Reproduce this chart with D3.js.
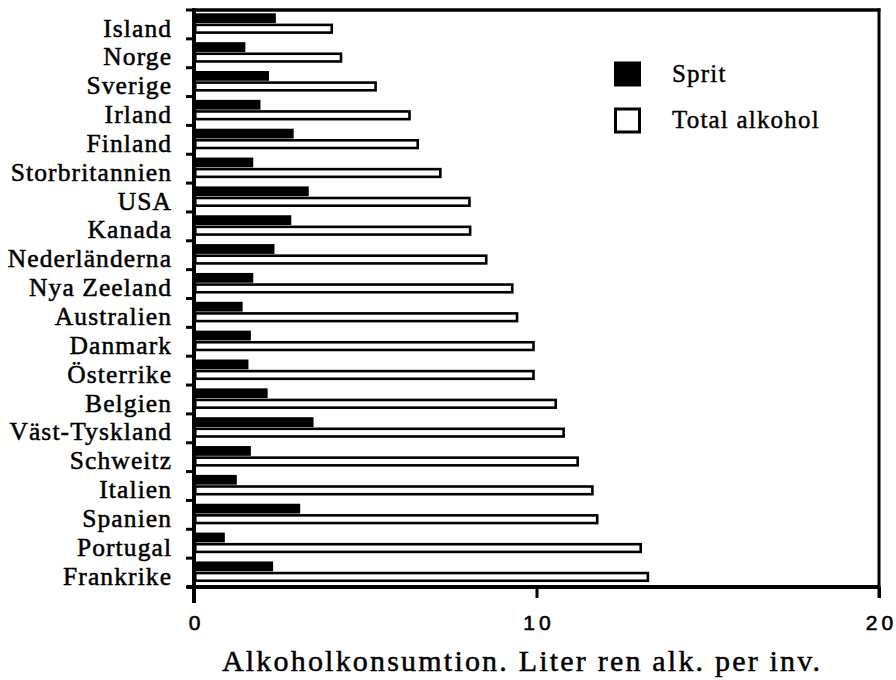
<!DOCTYPE html>
<html>
<head>
<meta charset="utf-8">
<script src="https://cdn.jsdelivr.net/npm/d3@7"></script>
<style>
  html, body { margin: 0; padding: 0; background: #fff; }
  svg { display: block; }
</style>
</head>
<body>
<svg id="chart" width="896" height="680"></svg>
<script>
const countries = ["Island","Norge","Sverige","Irland","Finland","Storbritannien","USA","Kanada","Nederländerna","Nya Zeeland","Australien","Danmark","Österrike","Belgien","Väst-Tyskland","Schweitz","Italien","Spanien","Portugal","Frankrike"];
const sprit = [2.39,1.50,2.19,1.94,2.91,1.73,3.35,2.84,2.35,1.73,1.42,1.66,1.59,2.15,3.49,1.66,1.25,3.10,0.90,2.31];
const total = [4.06,4.33,5.34,6.33,6.57,7.23,8.08,8.10,8.57,9.33,9.47,9.95,9.95,10.60,10.83,11.24,11.67,11.81,13.08,13.29];
const xTicks = [0,10,20];
const seriesNames = ["Sprit","Total alkohol"];
const xTitle = "Alkoholkonsumtion. Liter ren alk. per inv.";

(function(){
const svg = d3.select("#chart");
const pL = 194, pR = 879, pT = 10, pB = 587;
const serif = "'Liberation Serif','Times New Roman',serif";
const sans = "'Liberation Sans',Arial,sans-serif";

const x = d3.scaleLinear().domain([0,20]).range([pL,pR]);
const y = d3.scaleBand().domain(countries).range([pT,pB]).paddingInner(0).paddingOuter(0);
const sub = d3.scaleBand().domain(seriesNames).range([0,y.bandwidth()]).paddingInner(0).paddingOuter(0.4).align(0.4);

const data = countries.map((c,i)=>({c, s: sprit[i], t: total[i]}));

// Total bars (white with black outline)
const sw = 2.6;
svg.append("g").selectAll("rect").data(data).join("rect")
  .attr("x", pL + sw/2)
  .attr("y", d => y(d.c) + sub("Total alkohol") + sw/2)
  .attr("width", d => x(d.t) - pL - sw)
  .attr("height", sub.bandwidth() - sw)
  .attr("fill", "#fff").attr("stroke", "#000").attr("stroke-width", sw);

// Sprit bars (black)
svg.append("g").selectAll("rect").data(data).join("rect")
  .attr("x", pL)
  .attr("y", d => y(d.c) + sub("Sprit"))
  .attr("width", d => x(d.s) - pL)
  .attr("height", sub.bandwidth() - 0.5)
  .attr("fill", "#000");

// Frame
svg.append("line").attr("x1", pL-2).attr("x2", pR+1.5).attr("y1", pT).attr("y2", pT)
  .attr("stroke","#000").attr("stroke-width",3.5);
svg.append("line").attr("x1", pR).attr("x2", pR).attr("y1", pT-1.5).attr("y2", pB+11)
  .attr("stroke","#000").attr("stroke-width",3);

// X axis
const xAxis = d3.axisBottom(x).tickValues(xTicks).tickSize(11).tickSizeOuter(0).tickFormat(d3.format("d"));
const gx = svg.append("g").attr("transform", `translate(0,${pB})`).call(xAxis);
gx.select(".domain").attr("stroke-width",4).attr("d", `M${pL-7},0H${pR+1.5}`);
gx.selectAll(".tick line").attr("stroke-width",3);
gx.selectAll(".tick text")
  .attr("y", 43).attr("dy", null)
  .attr("font-family", sans).attr("font-size", 21).attr("fill","#000")
  .attr("stroke","#000").attr("stroke-width",0.6)
  .style("letter-spacing","4px").attr("dx", 2);

// Y axis (ticks at band boundaries)
const boundaries = d3.range(countries.length + 1).map(i => pT + i * y.step());
svg.append("g").selectAll("line").data(boundaries).join("line")
  .attr("x1", pL-8).attr("x2", pL).attr("y1", d=>d).attr("y2", d=>d)
  .attr("stroke","#000").attr("stroke-width",3);
svg.append("line").attr("x1", pL).attr("x2", pL).attr("y1", pT-1.5).attr("y2", pB+16)
  .attr("stroke","#000").attr("stroke-width",4);

// Category labels
svg.append("g").selectAll("text").data(countries).join("text")
  .attr("x", 171).attr("y", d => y(d) + 26.5)
  .attr("text-anchor","end")
  .attr("font-family", serif).attr("font-size", 25.5).attr("fill","#000")
  .attr("stroke","#000").attr("stroke-width",0.5)
  .style("letter-spacing","1.1px")
  .attr("dx", 1.1)
  .text(d => d);

// Axis title
svg.append("text").attr("x", 521).attr("y", 671).attr("text-anchor","middle")
  .attr("font-family", serif).attr("font-size", 30).attr("fill","#000")
  .attr("stroke","#000").attr("stroke-width",0.5)
  .style("letter-spacing","2.2px").attr("dx", 1.1)
  .text(xTitle);

// Legend
const lg = svg.append("g");
const legendItems = [
  {name: seriesNames[0], fill: "#000", cy: 74},
  {name: seriesNames[1], fill: "#fff", cy: 120}
];
lg.selectAll("rect").data(legendItems).join("rect")
  .attr("x", d => d.fill === "#000" ? 614 : 615.5)
  .attr("y", d => d.cy - 12.5 + (d.fill === "#000" ? 0 : 1.5))
  .attr("width", d => d.fill === "#000" ? 27 : 24)
  .attr("height", d => d.fill === "#000" ? 25 : 23)
  .attr("fill", d => d.fill).attr("stroke","#000").attr("stroke-width", d => d.fill === "#000" ? 0 : 3);
lg.selectAll("text").data(legendItems).join("text")
  .attr("x", 672).attr("y", d => d.cy + 8)
  .attr("font-family", serif).attr("font-size", 25).attr("fill","#000")
  .attr("stroke","#000").attr("stroke-width",0.4)
  .style("letter-spacing","1.2px")
  .text(d => d.name);
})();
</script>
</body>
</html>
